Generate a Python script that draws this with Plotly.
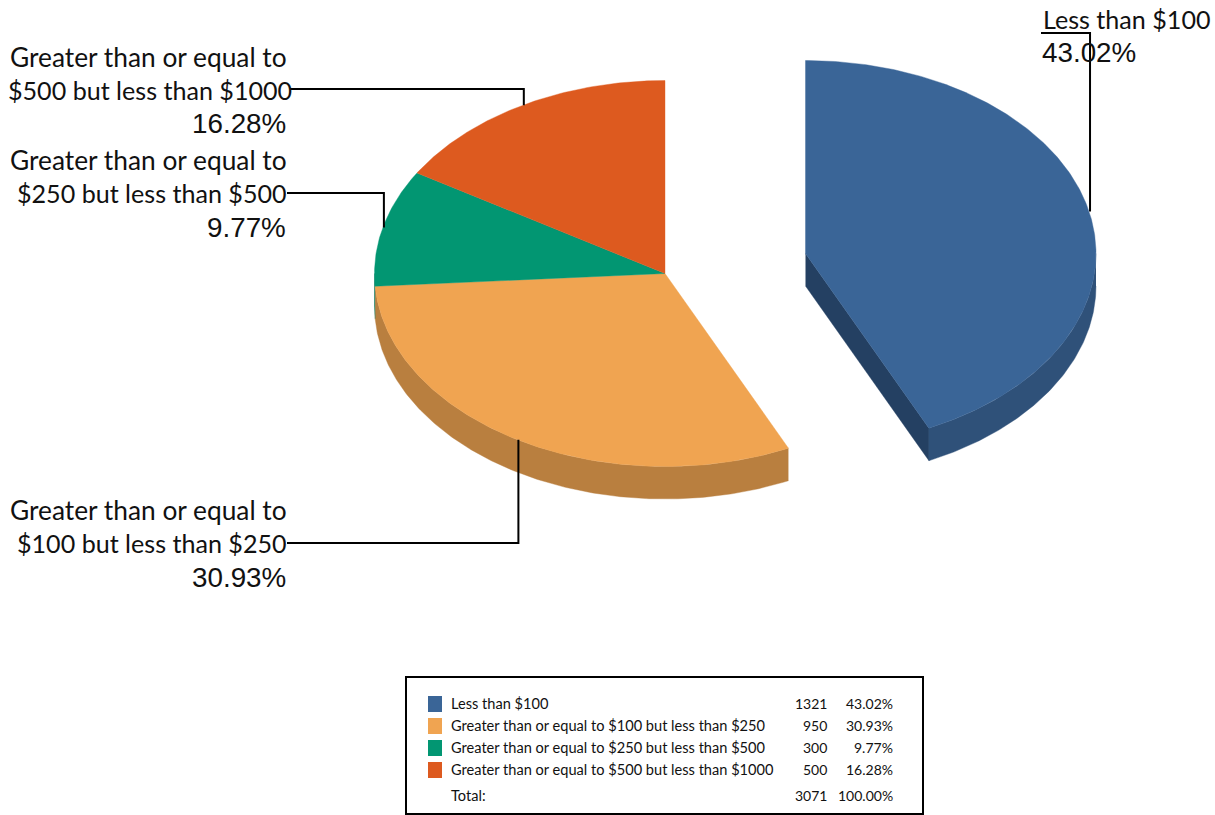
import numpy as np
import plotly.graph_objects as go

categories = ["Less than $100",
              "Greater than or equal to $100 but less than $250",
              "Greater than or equal to $250 but less than $500",
              "Greater than or equal to $500 but less than $1000"]
counts = [1321, 950, 300, 500]
percents = ["43.02%", "30.93%", "9.77%", "16.28%"]
label_lines = [["Less than $100"],
               ["Greater than or equal to", "$100 but less than $250"],
               ["Greater than or equal to", "$250 but less than $500"],
               ["Greater than or equal to", "$500 but less than $1000"]]
total_label = "Total:"
total_pct = "100.00%"

top_colors = ["#3A6597", "#F0A451", "#029672", "#DD5A1F"]
wall_colors = ["#2F5179", "#B97F3F", "#027558", "#B04818"]
inner_wall = "#244062"

CX, CY, RX, RY, DEPTH = 665, 273.5, 290.5, 193, 32.5
EXPLODE = (140.5, -20)
LABEL_FONT = "Lato"
LABEL_SIZES = [26.3, 25.1]
PCT_FONT = "Liberation Sans"
PCT_SIZE = 27.8
LEG_SIZE = 14.6
NUM_SIZE = 14
LEADER_SHIFT = 1

total = sum(counts)
edges = np.concatenate([[0], np.cumsum(counts)]) / total * 2 * np.pi


def pt(cx, cy, a):
    return cx + RX * np.sin(a), cy - RY * np.cos(a)


def arc(cx, cy, a0, a1):
    n = max(2, int(abs(a1 - a0) / 0.01))
    return pt(cx, cy, np.linspace(a0, a1, n))


def poly(fig, x, y, color, name):
    fig.add_trace(go.Scatter(x=list(x), y=list(y), mode="lines", fill="toself",
                             fillcolor=color, line=dict(color=color, width=0.4),
                             hoverinfo="text", text=name, showlegend=False))


fig = go.Figure()
centers = [(CX + EXPLODE[0], CY + EXPLODE[1]) if i == 0 else (CX, CY) for i in range(4)]

# side walls
for i in range(1, 4):
    a0, a1 = max(edges[i], np.pi / 2), min(edges[i + 1], 3 * np.pi / 2)
    if a1 > a0:
        x, y = arc(*centers[i], a0, a1)
        poly(fig, np.r_[x, x[::-1]], np.r_[y, y[::-1] + DEPTH], wall_colors[i], categories[i])
cx0, cy0 = centers[0]
xe, ye = pt(cx0, cy0, edges[1])
poly(fig, [cx0, xe, xe, cx0], [cy0, ye, ye + DEPTH, cy0 + DEPTH], inner_wall, categories[0])
x, y = arc(cx0, cy0, np.pi / 2, edges[1])
poly(fig, np.r_[x, x[::-1]], np.r_[y, y[::-1] + DEPTH], wall_colors[0], categories[0])

# top faces
for i in range(4):
    x, y = arc(*centers[i], edges[i], edges[i + 1])
    poly(fig, np.r_[centers[i][0], x, centers[i][0]], np.r_[centers[i][1], y, centers[i][1]],
         top_colors[i], categories[i])

annotations = []


def text(x, y, s, font, size, anchor):
    annotations.append(dict(x=x, y=y, text=s, showarrow=False, xanchor=anchor, yanchor="middle",
                            borderpad=0, font=dict(family=font, size=size, color="#111111")))


# callout labels and leader lines
LINE_Y = [33, 543, 193, 89]
LINE_X = [1041, 287, 287, 290]
TEXT_Y = [[18.5, 52], [509.5, 543, 577], [159.5, 193, 227], [56.5, 89.5, 123]]
LINE_RIGHT = [0, 287.5, 287.5, 293]
for i in range(4):
    mid = (edges[i] + edges[i + 1]) / 2
    mx, my = pt(*centers[i], mid)
    mx += LEADER_SHIFT
    fig.add_trace(go.Scatter(x=[LINE_X[i], mx, mx], y=[LINE_Y[i], LINE_Y[i], my], mode="lines",
                             line=dict(color="black", width=2), hoverinfo="skip", showlegend=False))
    if i == 0:
        text(1042, TEXT_Y[0][0], label_lines[0][0], LABEL_FONT, LABEL_SIZES[1], "left")
        text(1041, TEXT_Y[0][1], percents[0], PCT_FONT, PCT_SIZE, "left")
    else:
        text(287.5, TEXT_Y[i][0], label_lines[i][0], LABEL_FONT, LABEL_SIZES[0], "right")
        text(LINE_RIGHT[i], TEXT_Y[i][1], label_lines[i][1], LABEL_FONT, LABEL_SIZES[1], "right")
        text(286.5, TEXT_Y[i][2], percents[i], PCT_FONT, PCT_SIZE, "right")

# legend table
shapes = [dict(type="rect", x0=406, x1=923, y0=677, y1=814, line=dict(color="black", width=2),
               fillcolor="rgba(0,0,0,0)")]
ROW_Y = [703.5, 725.5, 747.5, 769.5]
for i in range(4):
    shapes.append(dict(type="rect", x0=428, x1=442, y0=ROW_Y[i] - 7.5, y1=ROW_Y[i] + 8.5,
                       line=dict(width=0), fillcolor=top_colors[i]))
    text(450, ROW_Y[i], categories[i], LABEL_FONT, LEG_SIZE, "left")
    text(828, ROW_Y[i], str(counts[i]), LABEL_FONT, NUM_SIZE, "right")
    text(894, ROW_Y[i], percents[i], LABEL_FONT, NUM_SIZE, "right")
text(450, 795.5, total_label, LABEL_FONT, LEG_SIZE, "left")
text(828, 795.5, str(total), LABEL_FONT, NUM_SIZE, "right")
text(894, 795.5, total_pct, LABEL_FONT, NUM_SIZE, "right")

fig.update_layout(width=1215, height=815, margin=dict(l=0, r=0, t=0, b=0),
                  paper_bgcolor="white", plot_bgcolor="white", showlegend=False,
                  xaxis=dict(range=[0, 1215], visible=False, fixedrange=True),
                  yaxis=dict(range=[815, 0], visible=False, fixedrange=True),
                  shapes=shapes, annotations=annotations)
fig.write_html("out.html", config={"displayModeBar": False},
               post_script="document.body.style.margin='0';document.body.style.overflow='hidden';")
